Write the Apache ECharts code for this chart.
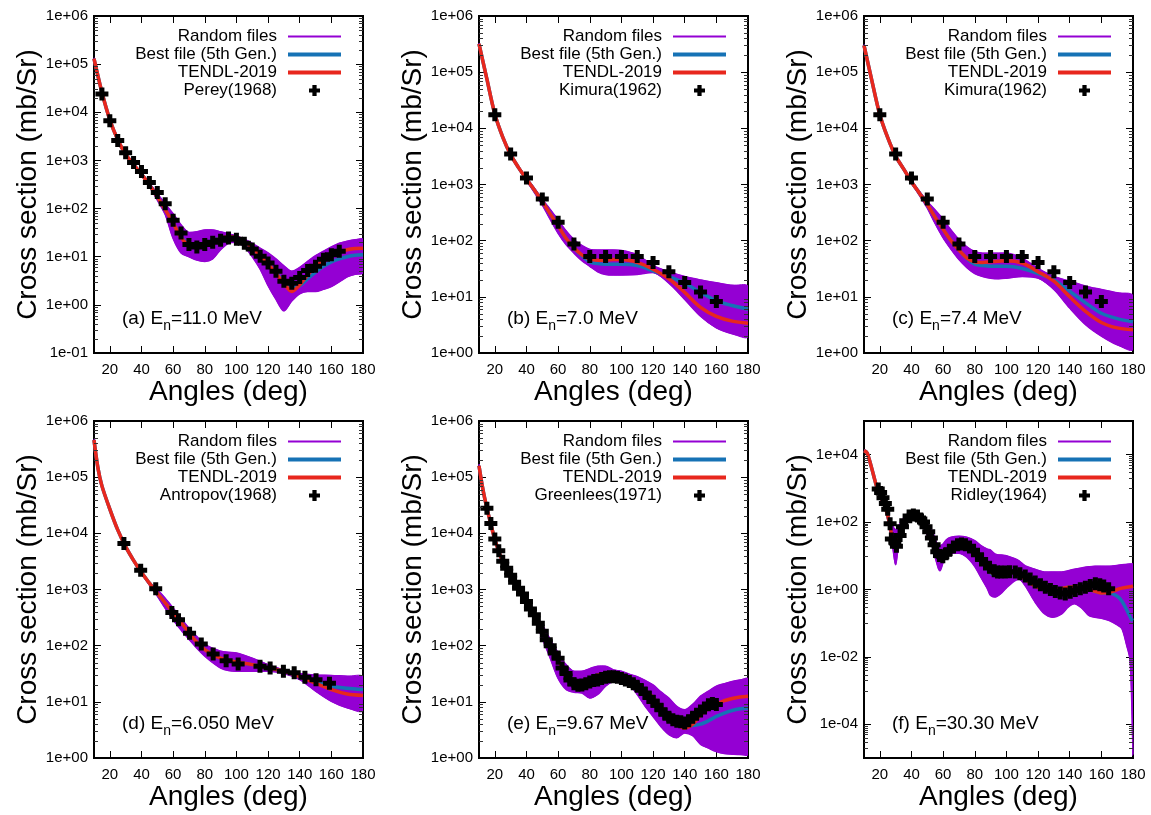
<!DOCTYPE html>
<html>
<head>
<meta charset="utf-8">
<script src="https://cdn.jsdelivr.net/npm/echarts@6/dist/echarts.min.js"></script>
<style>
  html, body { margin: 0; padding: 0; background: #fff; }
  #chart { width: 1151px; height: 815px; }
</style>
</head>
<body>
<div id="chart"></div>
<script>
// ---------- tick labels ----------
const angleTicks = [20, 40, 60, 80, 100, 120, 140, 160, 180];

// ---------- (a) En = 11.0 MeV ----------
const angA   = [10,15,20,25,30,35,40,45,50,55,60,65,70,75,80,85,90,95,100,105,110,115,120,125,130,135,140,145,150,155,160,165,170,175,180];
const tendlA = [1.3e5,2.6e4,7.0e3,2.7e3,1.35e3,820,520,310,175,95,50,25,17,16,18,21,24,26,25,21,15,10.5,7,4.5,2.8,1.9,2.6,4.2,6.2,8.3,10.5,12.5,14,14.8,15];
const bestA  = [1.3e5,2.6e4,7.0e3,2.7e3,1.35e3,820,520,310,175,95,50,26,18,17,19,22,24,25.5,24.5,20.5,15,10.5,7,4.6,3.0,2.3,2.5,3.5,4.8,6.3,7.8,9,10,10.7,11];
const upperA = [1.35e5,2.7e4,7.3e3,2.8e3,1.42e3,870,550,340,205,125,78,46,32,33,36,36,33,30,27,23,19,15,12,9,6.5,5,6,8,10.5,13,16,19,21,22.5,23];
const lowerA = [1.25e5,2.5e4,6.7e3,2.6e3,1.28e3,770,490,285,150,75,24,12,10,8.5,8,9,14,19,20,16,10,5.5,2.5,1.3,0.75,1.2,1.7,1.9,1.9,2.1,2.4,3,3.8,4.3,4.6];
const expAngA = [15,20,25,30,35,40,45,50,55,60,65,70,75,80,85,90,95,100,105,110,115,120,125,130,135,140,145,150,155,160,165];
const expA    = [2.4e4,6.7e3,2.6e3,1.45e3,910,590,350,215,126,57,31,18,16,18,20,22,24.5,23,19,14.4,10.2,7.4,5,3.1,2.8,3.7,5.2,6.3,8.9,11,13];

// ---------- (b) En = 7.0 MeV ----------
const angB   = [10,15,20,25,30,35,40,45,50,55,60,65,70,75,80,85,90,95,100,110,120,130,140,150,160,170,180];
const tendlB = [3.2e5,7.5e4,1.8e4,7e3,3.4e3,2e3,1.25e3,800,500,300,185,110,75,56,47,45,45,46,46,41,31,21,12,6.5,4.5,3.7,3.4];
const bestB  = [3.2e5,7.5e4,1.8e4,7e3,3.4e3,2e3,1.25e3,800,500,300,185,110,74,54,42,39,38,38,38,36,29,23,17.5,12,8.5,7,6];
const upperB = [3.3e5,7.8e4,1.86e4,7.3e3,3.55e3,2.1e3,1.32e3,860,550,360,235,150,105,82,70,68,68,68,67,56,36,28,23,20,17.8,16,15.4];
const lowerB = [3.1e5,7.2e4,1.74e4,6.7e3,3.25e3,1.9e3,1.17e3,720,430,240,135,85,60,44,35,28,25,24.5,24.5,25,27,17.5,9,4.5,2.8,2.2,1.95];

// Kimura(1962) measurements, shown in (b) and (c)
const expAngKimura = [20,30,40,50,60,70,80,90,100,110,120,130,140,150,160];
const expKimura    = [1.74e4,3.5e3,1.3e3,550,212,87,52,52,52,52,41,28,18,12.2,8.3];

// ---------- (c) En = 7.4 MeV ----------
const angC   = angB;
const tendlC = [3e5,7e4,1.75e4,6.8e3,3.2e3,1.9e3,1.12e3,700,440,260,160,100,68,49,42,41,42,43,44,40,28,19,10,5.5,3.5,2.8,2.6];
const bestC  = [3e5,7e4,1.75e4,6.8e3,3.2e3,1.9e3,1.12e3,700,440,260,160,100,68,48,38,36,35,35,35,32,26,20,12.6,7.8,5.1,4.1,3.6];
const upperC = [3.1e5,7.3e4,1.82e4,7.1e3,3.35e3,2e3,1.18e3,760,500,350,240,155,105,78,64,60,60,60,60,49,32,23,19,15.5,13.5,11.8,10.5];
const lowerC = [2.9e5,6.8e4,1.7e4,6.5e3,3.05e3,1.8e3,1.05e3,640,380,200,112,70,46,33,26,23,21.5,21,21.5,23,21.5,13.5,6.3,3.2,2,1.4,1.15];

// ---------- (d) En = 6.050 MeV ----------
const angD   = [10,12.5,15,20,25,30,35,40,45,50,55,60,65,70,75,80,85,90,95,100,110,120,130,140,150,160,170,180];
const tendlD = [4.6e5,1.45e5,7e4,2.7e4,1.15e4,5.8e3,3.3e3,2e3,1.3e3,850,580,390,260,170,115,85,70,60,55,51,46,40,35,28,21.5,16.5,13.8,13];
const bestD  = [4.6e5,1.45e5,7e4,2.7e4,1.15e4,5.8e3,3.3e3,2e3,1.3e3,850,580,390,260,170,115,85,70,60,55,51,46,40,35,28,23,19,17.5,16.6];
const upperD = [4.7e5,1.5e5,7.2e4,2.8e4,1.18e4,6e3,3.4e3,2.05e3,1.35e3,1e3,700,470,310,205,145,105,90,80,76,74,60,46,37,32,30,29.5,28.5,28];
const lowerD = [4.5e5,1.4e5,6.8e4,2.6e4,1.12e4,5.6e3,3.2e3,1.95e3,1.2e3,760,460,290,190,130,90,65,50,40,36,35,35,35,32,25,15.5,10.2,7.8,6.9];
const expAngD = [28.9,39.5,49,59.2,63.4,70.4,77.8,85.3,93.5,101.1,114.9,121.3,129.7,136.5,143.3,150.3,158.8];
const expD    = [6.6e3,2.2e3,1.03e3,390,290,166,107,71,54,47,43,40,35,33,27.5,24.7,21.5];

// ---------- (e) En = 9.67 MeV ----------
const angE   = [10,12.5,15,17.5,20,25,30,35,40,45,50,55,60,65,70,75,80,85,90,95,100,105,110,115,120,125,130,135,140,145,150,155,160,165,170,175,180];
const tendlE = [1.6e5,6e4,2.8e4,1.45e4,7.8e3,3.1e3,1.65e3,1e3,600,330,175,98,55,32,22,22,26,30,32,31,28,25,20.5,16,12,8.2,5.6,4.1,3.4,4,5.8,7.6,9,10.5,11.5,12.2,12.6];
const bestE  = [1.6e5,6e4,2.8e4,1.45e4,7.8e3,3.1e3,1.65e3,1e3,600,330,175,98,55,32,22,22,26,30,32,31,28,25,20.5,16,12,8.2,5.3,4.2,3.9,3.8,4,4.6,5.5,6.3,7,7.5,7.8];
const upperE = [1.7e5,6.3e4,3e4,1.5e4,8.2e3,3.2e3,1.75e3,1.07e3,650,380,235,130,75,46,35,35,39,43,43,37,35,31,28,24,20,15,11.7,8.3,7.2,9,12.6,15.5,19,21,23,24.5,25.7];
const lowerE = [1.5e5,5.7e4,2.65e4,1.4e4,7.4e3,2.9e3,1.55e3,940,550,290,135,60,26,16.6,14.8,14.4,11.7,13.5,19,23,23,20,13.5,8.3,5.5,3.6,2.6,2.3,2.8,2.5,1.75,1.5,1.3,1.2,1.17,1.15,1.15];
const expAngE = [15,17.5,20,22.5,25,27.5,30,32.5,35,37.5,40,42.5,45,47.5,50,52.5,55,57.5,60,62.5,65,67.5,70,72.5,75,77.5,80,82.5,85,87.5,90,92.5,95,97.5,100,102.5,105,107.5,110,112.5,115,117.5,120,122.5,125,127.5,130,132.5,135,137.5,140,142.5,145,147.5,150,152.5,155,157.5,160];
const expE    = [2.8e4,1.5e4,7.9e3,4.9e3,3.2e3,2.4e3,1.8e3,1.35e3,1.05e3,830,610,450,355,250,180,128,100,74,60,40,32,24.6,21,19.7,20,21,22.5,24,24.6,26,27.3,28,28,27.3,26,24.6,23,21,19,16.5,14.4,12,10.2,8.7,7.2,6,5.3,4.8,4.5,4.4,4.2,4.6,5.3,6,6.9,7.8,8.9,9.3,9];

// ---------- (f) En = 30.30 MeV ----------
const angF   = [10,12,14,16,18,20,22,24,26,28,30,32,34,36,40,45,50,53,55,57,58,60,62,65,70,75,80,84,88,90,93,97,100,105,108,112,118,124,129,135,139,143,148,152,156,160,165,170,173,176,178,179,180];
const tendlF = [1.32e4,1.12e4,5.6e3,2.5e3,1.12e3,631,398,224,100,31.6,17.8,39.8,79.4,117,158,120,52.5,28.2,17.8,10.5,8.7,8.3,10.5,15.8,21.4,20,12.6,7.6,4.2,3.3,2.8,3.16,3.3,3.16,2.82,2.0,1.26,1.05,0.95,1.07,1.17,1.2,1.12,1.0,0.89,0.79,0.83,1.0,1.1,1.17,1.2,1.23,1.26];
const bestF  = [1.32e4,1.12e4,5.6e3,2.5e3,1.12e3,631,398,224,100,31.6,17.8,39.8,79.4,117,158,120,52.5,28.2,17.8,10.5,8.0,7.8,10.5,15.8,21.4,20,12.6,7.6,3.9,3.1,2.6,2.9,3.3,3.16,2.82,2.0,1.26,1.05,0.95,1.07,1.17,1.2,1.12,1.0,0.89,0.79,0.79,0.63,0.45,0.25,0.16,0.13,0.12];
const upperF = [1.38e4,1.2e4,6.3e3,2.8e3,1.26e3,708,447,263,141,79,60,79,112,148,204,166,89,56,31.6,20,20,22.4,30,35.5,38,35.5,28.2,20,15.8,14.8,11.2,10.5,10,8.3,7.1,5.0,4.0,3.3,3.3,3.3,3.6,4.0,4.4,4.7,4.9,4.9,4.9,5.2,5.4,5.6,5.75,5.75,5.75];
const lowerF = [1.26e4,1.05e4,5e3,2.24e3,1e3,562,355,200,63,20,5.4,28,71,100,126,105,40,20,8.9,4.2,3.6,6.3,10,12,12,9.1,4.8,2.24,1.05,0.66,0.6,0.79,1.12,1.78,2.0,1.26,0.43,0.19,0.15,0.19,0.3,0.38,0.27,0.17,0.15,0.14,0.12,0.089,0.069,0.022,0.0089,0.001,1.26e-5];
const expAngF = [19,20.5,22,23.5,25,26.5,27.3,29.5,30.5,32.8,34.3,36.4,38.5,41.2,43.8,45.9,47.6,49.2,50.9,52.6,54.3,56,57.7,59.8,61.9,64,66.5,69.1,71.6,74.1,76.7,79.2,81.7,84.3,86.8,89.3,92.3,94.4,96.5,99.2,102,105.6,108.5,111.9,115,118.2,121.5,124.6,127.8,130.9,134,137.2,140.3,143.5,146.7,149.9,153,156.2,159,161.5,164.6];
const expF    = [955,759,525,355,240,89,31.6,25.1,19.1,39.8,72.4,110,151,162,151,123,100,72.4,51.3,33.9,21.4,13.2,10.2,9.33,11.5,14.5,18.2,21.4,22.4,21.4,18.2,14.5,10.7,7.76,5.75,4.57,3.63,3.31,3.31,3.31,3.39,3.31,2.95,2.51,2.04,1.66,1.38,1.17,1.0,0.87,0.79,0.74,0.83,0.93,1.05,1.17,1.32,1.48,1.38,1.26,1.05];

// ---------- styling ----------
const FONT = 'Liberation Sans, Arial, Helvetica, sans-serif';
const PURPLE = '#9400d3';
const BLUE = '#1672b5';
const RED = '#e8271d';
const CROSS = 'path://M4,0H9V4H13V9H9V13H4V9H0V4H4Z';

const panels = [
  { tag: '(a)', energy: '11.0',  expName: 'Perey(1968)',     ang: angA, tendl: tendlA, best: bestA, upper: upperA, lower: lowerA, expAng: expAngA,      exp: expA,      yMin: 1e-1, yMax: 1e6, base: 10 },
  { tag: '(b)', energy: '7.0',   expName: 'Kimura(1962)',    ang: angB, tendl: tendlB, best: bestB, upper: upperB, lower: lowerB, expAng: expAngKimura, exp: expKimura, yMin: 1,    yMax: 1e6, base: 10 },
  { tag: '(c)', energy: '7.4',   expName: 'Kimura(1962)',    ang: angC, tendl: tendlC, best: bestC, upper: upperC, lower: lowerC, expAng: expAngKimura, exp: expKimura, yMin: 1,    yMax: 1e6, base: 10 },
  { tag: '(d)', energy: '6.050', expName: 'Antropov(1968)',  ang: angD, tendl: tendlD, best: bestD, upper: upperD, lower: lowerD, expAng: expAngD,      exp: expD,      yMin: 1,    yMax: 1e6, base: 10 },
  { tag: '(e)', energy: '9.67',  expName: 'Greenlees(1971)', ang: angE, tendl: tendlE, best: bestE, upper: upperE, lower: lowerE, expAng: expAngE,      exp: expE,      yMin: 1,    yMax: 1e6, base: 10 },
  { tag: '(f)', energy: '30.30', expName: 'Ridley(1964)',    ang: angF, tendl: tendlF, best: bestF, upper: upperF, lower: lowerF, expAng: expAngF,      exp: expF,      yMin: 1e-5, yMax: 1e5, base: 100 }
];

// plot-area placement of the six panels
const layout = [
  { left: 94,  top: 16 }, { left: 479, top: 16 }, { left: 864, top: 16 },
  { left: 94,  top: 421 }, { left: 479, top: 421 }, { left: 864, top: 421 }
];
const PW = 269, PH = 337;

const zip = (xs, ys) => xs.map((x, i) => [x, ys[i]]);

function expLabel(v) {
  const e = Math.round(Math.log10(v));
  const a = Math.abs(e);
  return '1e' + (e < 0 ? '-' : '+') + (a < 10 ? '0' + a : String(a));
}

// minor log ticks: 2..9 per decade, or 1..9 in the skipped decades when labels step by 100
function minorTickValues(p) {
  const out = [];
  const lo = Math.floor(Math.log10(p.yMin)), hi = Math.ceil(Math.log10(p.yMax));
  for (let k = lo; k < hi; k++) {
    if (p.base === 100) {
      if (((k % 2) + 2) % 2 === 1) for (let m = 1; m <= 9; m++) out.push(m * Math.pow(10, k));
    } else {
      for (let m = 2; m <= 9; m++) out.push(m * Math.pow(10, k));
    }
  }
  return out.filter(v => v > p.yMin * 1.0001 && v < p.yMax * 0.9999);
}

const grid = [], xAxis = [], yAxis = [], series = [], legend = [], graphic = [];

panels.forEach((p, i) => {
  const L = layout[i];
  const edgeLabels = p.base === 10;   // 1e-05 / 1e+05 are not labelled on the base-100 axis
  grid.push({ left: L.left, top: L.top, width: PW, height: PH, show: true, borderColor: '#000', borderWidth: 2,
              backgroundColor: 'transparent', containLabel: false, outerBoundsMode: 'none' });

  const tickStyle = { show: true, inside: true, length: 7, lineStyle: { color: '#000', width: 1 } };
  xAxis.push({
    type: 'value', gridIndex: i, min: 10, max: 180, position: 'bottom',
    axisLine: { show: false }, splitLine: { show: false },
    axisTick: Object.assign({ customValues: angleTicks }, tickStyle),
    axisLabel: { customValues: angleTicks, margin: 9, fontSize: 15, color: '#000', fontFamily: FONT },
    name: 'Angles (deg)', nameLocation: 'middle', nameGap: 25,
    nameTextStyle: { fontSize: 28, color: '#000', fontFamily: FONT }
  });
  xAxis.push({
    type: 'value', gridIndex: i, min: 10, max: 180, position: 'top',
    axisLine: { show: false }, splitLine: { show: false },
    axisTick: Object.assign({ customValues: angleTicks }, tickStyle),
    axisLabel: { show: false }
  });
  yAxis.push({
    type: 'log', logBase: p.base, gridIndex: i, min: p.yMin, max: p.yMax, position: 'left',
    axisLine: { show: false }, splitLine: { show: false }, axisTick: tickStyle,
    axisLabel: { formatter: expLabel, margin: 6, fontSize: 15, color: '#000', fontFamily: FONT,
                 showMinLabel: edgeLabels, showMaxLabel: edgeLabels },
    name: 'Cross section (mb/Sr)', nameLocation: 'middle', nameGap: 52,
    nameTextStyle: { fontSize: 28, color: '#000', fontFamily: FONT }
  });
  yAxis.push({
    type: 'log', logBase: p.base, gridIndex: i, min: p.yMin, max: p.yMax, position: 'right',
    axisLine: { show: false }, splitLine: { show: false }, axisTick: tickStyle,
    axisLabel: { show: false }
  });

  const ax = { xAxisIndex: 2 * i, yAxisIndex: 2 * i };
  const lineBase = { type: 'line', showSymbol: false, symbol: 'none', smooth: 0.3, silent: true, animation: false };

  // random-file spread: edges + filled band
  series.push(Object.assign({}, lineBase, ax, { name: 'Random files', data: zip(p.ang, p.upper), z: 2,
    lineStyle: { color: PURPLE, width: 1.5 }, itemStyle: { color: PURPLE } }));
  series.push(Object.assign({}, lineBase, ax, { name: 'Random files', data: zip(p.ang, p.lower), z: 2,
    lineStyle: { color: PURPLE, width: 1.5 }, itemStyle: { color: PURPLE } }));
  series.push(Object.assign({}, ax, {
    type: 'custom', name: 'Random files', silent: true, animation: false, z: 1, clip: true,
    itemStyle: { color: PURPLE },
    data: p.ang.map((a, k) => [a, p.lower[k], p.upper[k]]),
    encode: { x: 0, y: [1, 2] },
    renderItem: function (params, api) {
      if (params.dataIndexInside !== 0) return null;
      const n = params.dataInsideLength;
      const top = [], bot = [];
      for (let j = 0; j < n; j++) {
        top.push(api.coord([api.value(0, j), api.value(2, j)]));
        bot.push(api.coord([api.value(0, j), api.value(1, j)]));
      }
      return { type: 'polygon', shape: { points: top.concat(bot.reverse()), smooth: 0.3 },
               style: { fill: PURPLE, stroke: PURPLE, lineWidth: 1 } };
    }
  }));
  series.push(Object.assign({}, lineBase, ax, { name: 'Best file (5th Gen.)', data: zip(p.ang, p.best), z: 3,
    lineStyle: { color: BLUE, width: 3.5 }, itemStyle: { color: BLUE } }));
  series.push(Object.assign({}, lineBase, ax, { name: 'TENDL-2019', data: zip(p.ang, p.tendl), z: 4,
    lineStyle: { color: RED, width: 3.5 }, itemStyle: { color: RED } }));
  series.push(Object.assign({}, ax, { type: 'scatter', name: p.expName, data: zip(p.expAng, p.exp), z: 5,
    symbol: CROSS, symbolSize: 13, silent: true, animation: false, itemStyle: { color: '#000', opacity: 1 } }));

  // minor log ticks on both vertical borders
  series.push(Object.assign({}, ax, {
    type: 'custom', silent: true, animation: false, z: 6, clip: false,
    data: minorTickValues(p).map(v => [10, v]),
    renderItem: function (params, api) {
      const pt = api.coord([api.value(0), api.value(1)]);
      const cs = params.coordSys;
      const y = Math.round(pt[1]) + 0.5;
      const st = { stroke: '#333', lineWidth: 1 };
      return { type: 'group', children: [
        { type: 'line', shape: { x1: cs.x, y1: y, x2: cs.x + 4, y2: y }, style: st },
        { type: 'line', shape: { x1: cs.x + cs.width - 4, y1: y, x2: cs.x + cs.width, y2: y }, style: st }
      ] };
    }
  }));

  // line keys show the stroke only (no marker dot)
  const hideDot = { opacity: 0 };
  legend.push({
    orient: 'vertical', align: 'right', selectedMode: false, padding: 0,
    right: 1151 - (L.left + PW - 20), top: L.top + 12,
    itemWidth: 53, itemHeight: 11, itemGap: 1,
    textStyle: { fontSize: 17, color: '#000', fontFamily: FONT, padding: [0, 6, 0, 0] },
    data: [
      { name: 'Random files', itemStyle: hideDot, lineStyle: { width: 2, color: PURPLE } },
      { name: 'Best file (5th Gen.)', itemStyle: hideDot, lineStyle: { width: 4, color: BLUE } },
      { name: 'TENDL-2019', itemStyle: hideDot, lineStyle: { width: 4, color: RED } },
      { name: p.expName, icon: CROSS, itemStyle: { color: '#000', opacity: 1 } }
    ]
  });

  graphic.push({
    type: 'text', left: L.left + 28, top: L.top + 289, silent: true,
    style: {
      text: p.tag + ' E{sub|n}=' + p.energy + ' MeV',
      fontSize: 19, fontFamily: FONT, fill: '#000', lineHeight: 20,
      rich: { sub: { fontSize: 14, lineHeight: 14, padding: [14, 0, 0, 0], fontFamily: FONT, fill: '#000' } }
    }
  });
});

const chart = echarts.init(document.getElementById('chart'), null, { renderer: 'canvas' });
chart.setOption({
  animation: false,
  backgroundColor: '#fff',
  textStyle: { fontFamily: FONT },
  grid, xAxis, yAxis, series, legend, graphic
});
</script>
</body>
</html>
